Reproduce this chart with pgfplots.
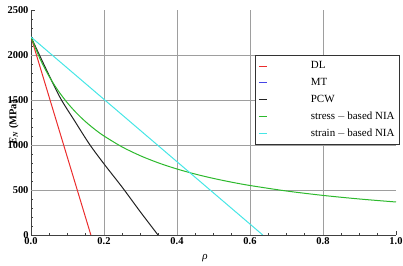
\documentclass[border=0pt]{standalone}
\usepackage{fontspec}
\setmainfont{Liberation Serif}
\usepackage{pgfplots}
\pgfplotsset{compat=1.18}
\definecolor{cDL}{RGB}{235,45,45}
\definecolor{cMT}{RGB}{70,70,230}
\definecolor{cPCW}{RGB}{35,35,35}
\definecolor{cSB}{RGB}{45,185,45}
\definecolor{cEB}{RGB}{70,230,230}
\begin{document}
\begin{tikzpicture}
\begin{axis}[
  scale only axis, width=365bp, height=225bp,
  xmin=0, xmax=1, ymin=0, ymax=2500,
  axis x line=bottom, axis y line=left,
  axis line style={-, line width=0.8bp, black!75},
  xtick={0,0.2,0.4,0.6,0.8,1.0}, ytick={0,500,1000,1500,2000,2500},
  xticklabels={0.0,0.2,0.4,0.6,0.8,1.0},
  minor x tick num=3, minor y tick num=4,
  tick align=inside, major tick length=4bp, minor tick length=2bp,
  tick style={black!75, line width=0.6bp},
  extra x ticks={0.2,0.4,0.6,0.8}, extra x tick labels={},
  extra y ticks={500,1000,1500,2000}, extra y tick labels={},
  extra tick style={grid=major, major tick length=0pt},
  grid style={black!38, line width=0.8bp},
  /pgf/number format/assume math mode=true,
  /pgf/number format/set thousands separator={},
  tick label style={font=\fontsize{10.5}{12}\selectfont\bfseries},
  xticklabel style={yshift=1bp},
  yticklabel style={xshift=1bp},
  ylabel={\textbf{\textit{E}\textsubscript{\textit{N}} (MPa)}},
  ylabel style={at={(axis description cs:-0.047,0.5)}, anchor=center, font=\fontsize{10.5}{12}\selectfont\bfseries},
  xlabel={\textit{ρ}},
  xlabel style={at={(axis description cs:0.477,-0.102)}, anchor=center, font=\fontsize{11}{12}\selectfont},
  legend style={at={(axis description cs:0.614,0.8)}, anchor=north west,
    draw=black!80, line width=0.6bp, fill=white, font=\fontsize{11}{12}\selectfont,
    inner xsep=3bp, inner ysep=2.5bp,
    nodes={inner ysep=4bp}},
  legend cell align=left,
  legend image code/.code={\draw[#1, line width=1bp] (0bp,0bp) -- (8bp,0bp); \path[draw=none] (0bp,0bp) -- (50bp,0bp);},
  every axis plot/.append style={line width=1bp},
]
\addplot[draw=cDL] coordinates {(0,2200) (0.164,0)};
\addlegendentry{DL}
\addlegendimage{draw=cMT}
\addlegendentry{MT}
\addplot[draw=cPCW, smooth] coordinates {(0,2200) (0.04,1855) (0.08,1525) (0.12,1265) (0.16,1010) (0.2,790) (0.25,530) (0.3,255) (0.348,0)};
\addlegendentry{PCW}
\addplot[draw=cSB, smooth] coordinates {(0,2200) (0.025,1955.6) (0.05,1760) (0.075,1600) (0.1,1466.7) (0.125,1353.8) (0.15,1257.1) (0.175,1173.3) (0.2,1100) (0.25,977.8) (0.3,880) (0.35,800) (0.4,733.3) (0.45,676.9) (0.5,628.6) (0.55,586.7) (0.6,550) (0.7,488.9) (0.8,440) (0.9,400) (1.0,366.7)};
\addlegendentry{stress\,$-$\,based NIA}
\addplot[draw=cEB] coordinates {(0,2200) (0.635,0)};
\addlegendentry{strain\,$-$\,based NIA}
\end{axis}
\pgfresetboundingbox
\path[use as bounding box] ([shift={(-31bp,-31bp)}]current axis.south west) rectangle ([shift={(7bp,10bp)}]current axis.north east);
\end{tikzpicture}
\end{document}
